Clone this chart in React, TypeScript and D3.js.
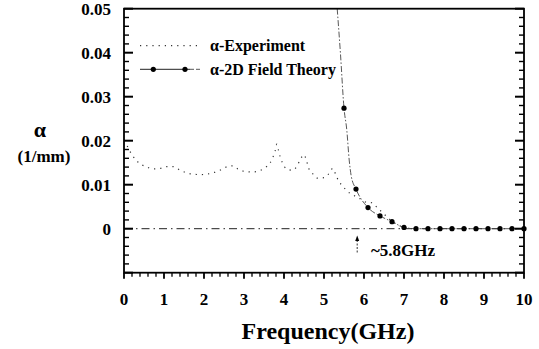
import React from "react";
import * as d3 from "d3";

const W = 539;
const H = 349;

const xTicks = [0, 1, 2, 3, 4, 5, 6, 7, 8, 9, 10];
const yTicks = [0, 0.01, 0.02, 0.03, 0.04, 0.05];
const yTickLabels = ["0", "0.01", "0.02", "0.03", "0.04", "0.05"];

// alpha-Experiment (dotted)
const expFreq = [0.08, 0.18, 0.38, 0.55, 0.72, 0.9, 1.07, 1.23, 1.4, 1.57, 1.72, 1.9, 2.07, 2.23, 2.4, 2.55, 2.72, 2.86, 3.03, 3.2, 3.36, 3.53, 3.65, 3.72, 3.78, 3.82, 3.86, 3.9, 3.96, 4.05, 4.21, 4.33, 4.4, 4.5, 4.57, 4.62, 4.71, 4.84, 5.0, 5.13, 5.22, 5.29, 5.36, 5.47, 5.57, 5.72, 5.88, 6.07, 6.2, 6.32, 6.48, 6.7, 7.0, 7.2];
const expAlpha = [0.0188, 0.0171, 0.0149, 0.0141, 0.0136, 0.0137, 0.0141, 0.0141, 0.0133, 0.0127, 0.0124, 0.0123, 0.0124, 0.0127, 0.0133, 0.014, 0.0143, 0.0135, 0.013, 0.0129, 0.0131, 0.0139, 0.0149, 0.0162, 0.0177, 0.0192, 0.0179, 0.0165, 0.015, 0.0137, 0.0133, 0.0143, 0.0156, 0.0168, 0.0152, 0.0137, 0.0126, 0.0115, 0.0116, 0.0126, 0.0137, 0.0124, 0.0109, 0.0097, 0.0086, 0.0077, 0.0069, 0.006, 0.0059, 0.0049, 0.0035, 0.0017, 0.0003, 0.0];

// alpha-2D Field Theory curve
const thFreq = [5.33, 5.41, 5.5, 5.57, 5.63, 5.68, 5.8, 6.1, 6.4, 6.7, 7.0, 7.3, 7.6, 7.9, 8.2, 8.5, 8.8, 9.1, 9.4, 9.7, 10.0];
const thAlpha = [0.05, 0.04, 0.0274, 0.0224, 0.0156, 0.012, 0.009, 0.0048, 0.0029, 0.0016, 0.0003, 0, 0, 0, 0, 0, 0, 0, 0, 0, 0];
// marker points
const mkFreq = [5.5, 5.8, 6.1, 6.4, 6.7, 7.0, 7.3, 7.6, 7.9, 8.2, 8.5, 8.8, 9.1, 9.4, 9.7, 10.0];
const mkAlpha = [0.0274, 0.009, 0.0048, 0.0029, 0.0016, 0.0003, 0, 0, 0, 0, 0, 0, 0, 0, 0, 0];

export default function App() {
  const L = 124, R = 524, T = 8.7, B = 272.7;
  const x = d3.scaleLinear().domain([0, 10]).range([L, R]);
  const y = d3.scaleLinear().domain([-0.01, 0.05]).range([B, T]);

  const line = d3
    .line<[number, number]>()
    .x((d) => x(d[0]))
    .y((d) => y(d[1]))
    .curve(d3.curveMonotoneX);

  const expPath = line(expFreq.map((f, i) => [f, expAlpha[i]]))!;
  const thPath = line(thFreq.map((f, i) => [f, thAlpha[i]]))!;

  const xMinor = d3.range(0, 10.0001, 0.2);
  const yMinor = d3.range(-0.01, 0.05001, 0.002);
  const F = "Liberation Serif";

  return (
    <svg width={W} height={H} style={{ position: "absolute", left: 0, top: 0 }}>
      <defs>
        <clipPath id="plotclip">
          <rect x={L} y={T} width={R - L} height={B - T} />
        </clipPath>
      </defs>

      {/* zero line */}
      <line x1={L} x2={R} y1={y(0)} y2={y(0)} stroke="#222" strokeWidth={1} strokeDasharray="8,4,1.5,4" />

      {/* experiment (dotted) */}
      <path d={expPath} fill="none" stroke="#333" strokeWidth={1.2} strokeDasharray="1.2,5" clipPath="url(#plotclip)" />

      {/* theory (dash-dot) with markers */}
      <path d={thPath} fill="none" stroke="#444" strokeWidth={0.9} strokeDasharray="6,2,1.5,2" clipPath="url(#plotclip)" />
      {mkFreq.map((f, i) => (
        <circle key={i} cx={x(f)} cy={y(mkAlpha[i])} r={2.6} fill="#000" />
      ))}

      {/* frame */}
      <rect x={L} y={T} width={R - L} height={B - T} fill="none" stroke="#000" strokeWidth={1.8} />

      {/* left & right ticks */}
      {yMinor.map((v, i) => {
        const major = Math.abs(Math.round(v / 0.01) * 0.01 - v) < 1e-6;
        const len = major ? 9 : 5;
        return (
          <g key={i}>
            <line x1={L} x2={L + len} y1={y(v)} y2={y(v)} stroke="#000" strokeWidth={major ? 2 : 1.4} />
            <line x1={R} x2={R - len} y1={y(v)} y2={y(v)} stroke="#000" strokeWidth={major ? 2 : 1.4} />
          </g>
        );
      })}

      {/* bottom ticks */}
      {xMinor.map((v, i) => {
        const major = Math.abs(Math.round(v) - v) < 1e-6;
        const len = major ? 6 : 4;
        return <line key={i} x1={x(v)} x2={x(v)} y1={B} y2={B + len} stroke="#000" strokeWidth={major ? 1.8 : 1.3} />;
      })}

      {/* tick labels */}
      {yTicks.map((v, i) => (
        <text key={i} x={111} y={y(v) + 6} textAnchor="end" fontSize={17} fontWeight="bold" fontFamily={F}>
          {yTickLabels[i]}
        </text>
      ))}
      {xTicks.map((v) => (
        <text key={v} x={x(v)} y={305} textAnchor="middle" fontSize={17} fontWeight="bold" fontFamily={F}>
          {String(v)}
        </text>
      ))}

      {/* axis titles */}
      <text x={328} y={339} textAnchor="middle" fontSize={24} fontWeight="bold" fontFamily={F}>Frequency(GHz)</text>
      <text x={40} y={137} textAnchor="middle" fontSize={22} fontWeight="bold" fontFamily={F}>α</text>
      <text x={44} y={162} textAnchor="middle" fontSize={17} fontWeight="bold" fontFamily={F}>(1/mm)</text>

      {/* legend */}
      <line x1={140} x2={200} y1={45.7} y2={45.7} stroke="#333" strokeWidth={1.2} strokeDasharray="1.2,5" />
      <text x={210} y={51} fontSize={16} fontWeight="bold" fontFamily={F}>α-Experiment</text>
      <line x1={140} x2={190} y1={69.3} y2={69.3} stroke="#222" strokeWidth={1} />
      <line x1={190} x2={200} y1={69.3} y2={69.3} stroke="#444" strokeWidth={0.9} strokeDasharray="4,2" />
      <circle cx={153.3} cy={69.3} r={2.6} fill="#000" />
      <circle cx={185} cy={69.3} r={2.6} fill="#000" />
      <text x={210} y={74.5} fontSize={16} fontWeight="bold" fontFamily={F}>α-2D Field Theory</text>

      {/* cutoff annotation */}
      <line x1={x(5.83)} x2={x(5.83)} y1={240} y2={254} stroke="#333" strokeWidth={1} strokeDasharray="2,1.5" />
      <path d={`M${x(5.83)},235.5 L${x(5.83) - 2},241 L${x(5.83) + 2},241 Z`} fill="#000" />
      <text x={371} y={256} fontSize={17} fontWeight="bold" fontFamily={F}>~5.8GHz</text>
    </svg>
  );
}
